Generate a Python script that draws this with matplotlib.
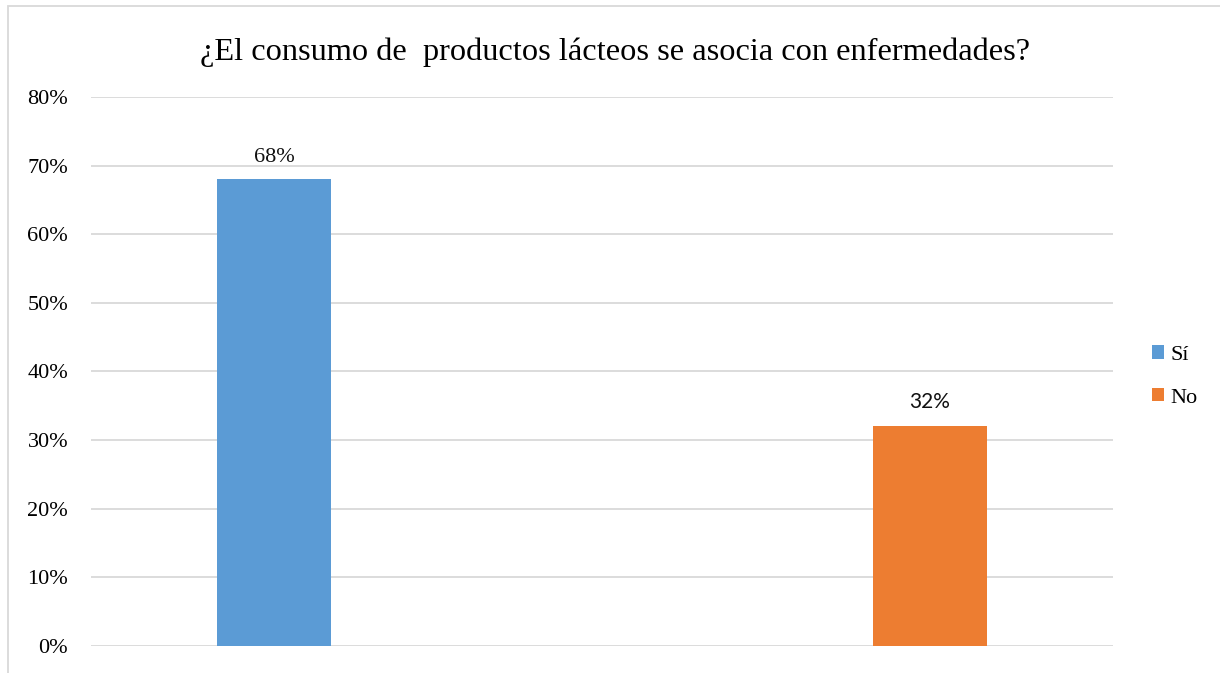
import matplotlib.pyplot as plt
from matplotlib.patches import Rectangle
from matplotlib.ticker import FuncFormatter

# survey answers
respuestas = ['Sí', 'No']
porcentajes = [0.68, 0.32]
colores = ['#5B9BD5', '#ED7D31']
posiciones = [0.179, 0.821]
yticks = [0, 0.1, 0.2, 0.3, 0.4, 0.5, 0.6, 0.7, 0.8]

serif = 'Liberation Serif'

fig = plt.figure(figsize=(12.2, 6.73), dpi=100)
ax = fig.add_axes([0.0746, 0.0401, 0.8377, 0.8158])

for pos, val, col, lab in zip(posiciones, porcentajes, colores, respuestas):
    ax.bar(pos, val, width=0.1115, color=col, label=lab, zorder=3)

# value labels: first in serif, second in a sans face
ax.annotate('{:.0%}'.format(porcentajes[0]), (posiciones[0], porcentajes[0]),
            xytext=(0, 12.3), textcoords='offset points', ha='center', va='baseline',
            fontsize=16, family=serif, color='#111111')
ax.annotate('{:.0%}'.format(porcentajes[1]), (posiciones[1], porcentajes[1]),
            xytext=(0, 13), textcoords='offset points', ha='center', va='baseline',
            fontsize=15, family='Lato', color='#111111')

ax.set_xlim(0, 1)
ax.set_ylim(0, 0.8)
ax.set_yticks(yticks)
ax.yaxis.set_major_formatter(FuncFormatter(lambda v, p: '{:.0f}%'.format(v * 100)))
ax.set_xticks([])
ax.grid(axis='y', color='#D9D9D9', linewidth=1.3, zorder=0)
for s in ax.spines.values():
    s.set_visible(False)
ax.tick_params(axis='y', length=0, pad=16.5, labelsize=16)
for t in ax.get_yticklabels():
    t.set_family(serif)

fig.text(0.504, 0.923, '¿El consumo de  productos lácteos se asocia con enfermedades?',
         ha='center', va='center', fontsize=23.3, family=serif)

leg = ax.legend(loc='center left', bbox_to_anchor=(1.027, 0.491), frameon=False,
                prop={'family': serif, 'size': 16}, handlelength=0.55, handleheight=0.55,
                handletextpad=0.3, labelspacing=1.05, borderpad=0)

# chart frame
fig.patches.append(Rectangle((8 / 1220, -0.02), 1.1, 1 - 6 / 673 + 0.02,
                             transform=fig.transFigure, fill=False,
                             edgecolor='#D9D9D9', linewidth=1.3))

fig.savefig('out.png', dpi=100)
